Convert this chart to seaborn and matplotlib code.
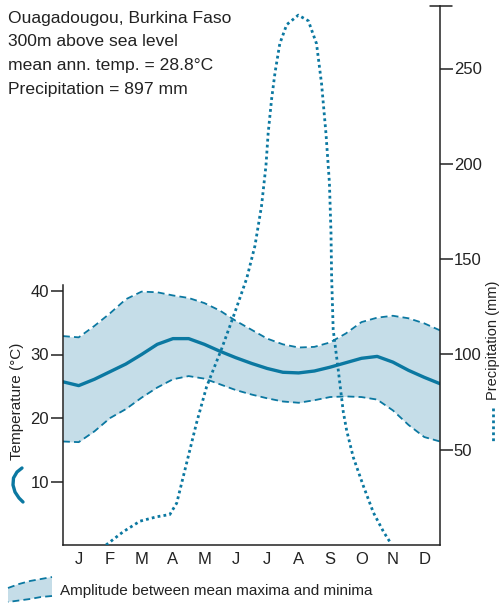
import matplotlib
matplotlib.use("Agg")
import matplotlib.pyplot as plt
from matplotlib.lines import Line2D
from matplotlib.patches import Polygon
import seaborn as sns
import pandas as pd

# month positions (0 = start of Jan, 12 = end of Dec)
months = ['J', 'F', 'M', 'A', 'M', 'J', 'J', 'A', 'S', 'O', 'N', 'D']
month_pos = [0.5, 1.5, 2.5, 3.5, 4.5, 5.5, 6.5, 7.5, 8.5, 9.5, 10.5, 11.5]

# temperature curves, read every half month
t_x = [0, 0.5, 1, 1.5, 2, 2.5, 3, 3.5, 4, 4.5, 5, 5.5, 6, 6.5, 7, 7.5, 8, 8.5,
       9, 9.5, 10, 10.5, 11, 11.5, 12]
t_max = [32.9, 32.7, 34.5, 36.5, 38.7, 39.9, 39.8, 39.3, 38.9, 38.1, 36.9, 35.3,
         33.9, 32.5, 31.6, 31.1, 31.2, 31.9, 33.3, 35.1, 35.8, 36.1, 35.7, 34.9, 33.8]
t_mean = [25.7, 25.1, 26.1, 27.3, 28.5, 30.0, 31.6, 32.5, 32.5, 31.6, 30.5, 29.5,
          28.6, 27.8, 27.2, 27.1, 27.4, 28.0, 28.7, 29.4, 29.7, 28.8, 27.5, 26.4, 25.4]
t_min = [16.3, 16.2, 17.9, 20.0, 21.4, 23.2, 24.8, 26.1, 26.6, 26.2, 25.3, 24.4,
         23.7, 23.1, 22.6, 22.4, 22.8, 23.3, 23.4, 23.3, 22.9, 21.2, 18.9, 17.0, 16.3]

# precipitation curve (mm)
p_x = [1.37, 1.92, 2.45, 2.98, 3.4, 3.62, 3.83, 4.04, 4.25, 4.57, 5.05, 5.47, 5.85,
       6.11, 6.32, 6.46, 6.53, 6.64, 6.75, 6.9, 7.12, 7.49, 7.81, 8.07, 8.23, 8.37,
       8.48, 8.53, 8.55, 8.6, 8.76, 8.92, 9.03, 9.24, 9.56, 9.88, 10.2, 10.43]
p_mm = [0, 7, 12.5, 14.8, 16, 22, 36, 50, 64, 83, 103, 122, 140,
        157, 178, 199, 216, 234, 248, 263, 273, 278, 275, 263, 242, 216,
        190, 164, 141, 113, 92, 70, 60, 46, 31, 17, 7, 1]

temp = pd.DataFrame({'x': t_x, 'max': t_max, 'mean': t_mean, 'min': t_min})
prec = pd.DataFrame({'x': p_x, 'mm': p_mm})

sns.set_style("white")
plt.rcParams['font.family'] = ['Liberation Sans', 'DejaVu Sans']

blue = '#0b78a1'
band = '#c5dde8'
ink = '#222222'
dash = (0, (3.8, 2.3))
dots = (0, (1, 1.15))

W, H = 502, 603
def fx(px):
    return px / W
def fy(py):
    return 1 - py / H

fig = plt.figure(figsize=(W / 100, H / 100), dpi=100)
ax = fig.add_axes([fx(63), fy(545), 377 / W, 539 / H])
ax2 = ax.twinx()

# amplitude band
ax.fill_between(temp['x'], temp['min'], temp['max'], color=band, lw=0)
sns.lineplot(data=temp, x='x', y='max', ax=ax, color=blue, lw=1.3, linestyle=dash)
sns.lineplot(data=temp, x='x', y='min', ax=ax, color=blue, lw=1.3, linestyle=dash)
sns.lineplot(data=temp, x='x', y='mean', ax=ax, color=blue, lw=2.4)

# precipitation
sns.lineplot(data=prec, x='x', y='mm', ax=ax2, color=blue, lw=2.0, linestyle=dots)

ax.set_xlim(0, 12)
ax.set_ylim(0, 539 / 6.35)
ax2.set_ylim(0, 539 / 1.906)

ax.set_xticks(month_pos)
ax.set_xticklabels(months, fontsize=12, color=ink)
ax.set_yticks([10, 20, 30, 40])
ax.tick_params(axis='x', length=0, pad=5)
ax.tick_params(axis='y', length=9, width=1.1, pad=1, labelsize=12,
               color=ink, labelcolor=ink)
ax2.set_yticks([50, 100, 150, 200, 250])
ax2.tick_params(axis='y', length=9, width=1.1, pad=1, labelsize=12,
                color=ink, labelcolor=ink)
ax.set_xlabel('')
ax.set_ylabel('')
ax2.set_ylabel('')

for a in (ax, ax2):
    for s in a.spines.values():
        s.set_color(ink)
        s.set_linewidth(1.1)
    a.spines['top'].set_visible(False)
ax.spines['right'].set_visible(False)
ax2.spines['left'].set_visible(False)
ax2.spines['bottom'].set_visible(False)
ax.spines['left'].set_bounds(0, 41)

# cap at the top of the precipitation axis
ax2.plot([1 - 10 / 377, 1 + 12 / 377], [1, 1], transform=ax2.transAxes,
         color=ink, lw=1.1, clip_on=False)

# axis titles with their line keys
fig.text(fx(17.5), fy(401), 'Temperature (°C)', rotation=90, ha='center',
         va='center', fontsize=11, color=ink)
fig.add_artist(Line2D([fx(p) for p in [22, 17, 13.5, 13, 15, 19, 23]],
                      [fy(p) for p in [468, 472, 478, 485, 492, 498, 502]],
                      color=blue, lw=2.4, solid_capstyle='round'))
fig.text(fx(493), fy(340), 'Precipitation (mm)', rotation=90, ha='center',
         va='center', fontsize=10.5, color=ink)
fig.add_artist(Line2D([fx(493), fx(493)], [fy(408), fy(443)], color=blue,
                      lw=2.0, linestyle=dots))

# station info
info = ['Ouagadougou, Burkina Faso', '300m above sea level',
        'mean ann. temp. = 28.8°C', 'Precipitation = 897 mm']
for i, line in enumerate(info):
    fig.text(fx(8), fy(22.7 + i * 23.7), line, fontsize=12.6, color=ink,
             va='baseline', ha='left')

# legend for the band
top = [(8, 588), (19, 584), (30, 581), (41, 579), (52, 577)]
bot = [(52, 596), (41, 597), (30, 599), (19, 600.5), (8, 602)]
fig.add_artist(Polygon([(fx(a), fy(b)) for a, b in top + bot], closed=True,
                       facecolor=band, edgecolor='none'))
fig.add_artist(Line2D([fx(a) for a, b in top], [fy(b) for a, b in top],
                      color=blue, lw=1.3, linestyle=dash))
fig.add_artist(Line2D([fx(a) for a, b in bot], [fy(b) for a, b in bot],
                      color=blue, lw=1.3, linestyle=dash))
fig.text(fx(60), fy(591), 'Amplitude between mean maxima and minima',
         fontsize=11, color=ink, va='center', ha='left')

fig.savefig('out.png', dpi=100)
